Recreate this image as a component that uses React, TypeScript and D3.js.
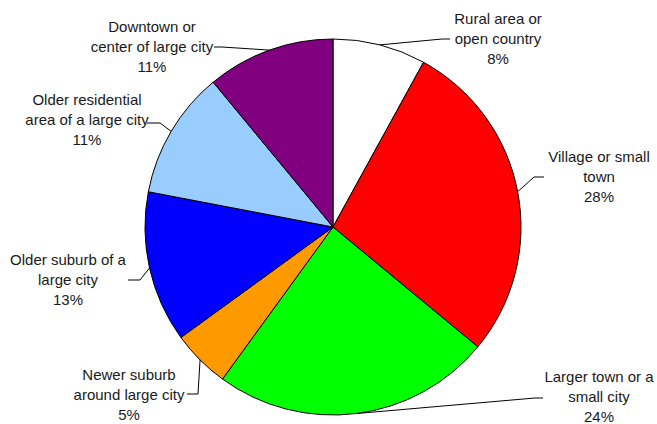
import React from "react";
import * as d3 from "d3";

const categories = [
  "Rural area or open country",
  "Village or small town",
  "Larger town or a small city",
  "Newer suburb around large city",
  "Older suburb of a large city",
  "Older residential area of a large city",
  "Downtown or center of large city",
];
const values = [8, 28, 24, 5, 13, 11, 11];
const labelLines = [
  ["Rural area or", "open country", "8%"],
  ["Village or small", "town", "28%"],
  ["Larger town or a", "small city", "24%"],
  ["Newer suburb", "around large city", "5%"],
  ["Older suburb of a", "large city", "13%"],
  ["Older residential", "area of a large city", "11%"],
  ["Downtown or", "center of large city", "11%"],
];
const colors = ["#FFFFFF", "#FF0000", "#00FF00", "#FF9900", "#0000FF", "#99CCFF", "#800080"];

// label layout: text center x, first line center y, leader bend, leader end
const labelLayout = [
  { cx: 498, cy: 19, bend: [442, 39], end: [450, 39] },
  { cx: 599, cy: 157, bend: [534, 177], end: [544, 177] },
  { cx: 599, cy: 377, bend: [535, 398], end: [543, 398] },
  { cx: 129, cy: 375, bend: [198, 394], end: [187, 394] },
  { cx: 68, cy: 260, bend: [140, 280], end: [128, 280] },
  { cx: 87, cy: 100, bend: [160, 123], end: [147, 123] },
  { cx: 152, cy: 27, bend: [222, 47], end: [214, 47] },
];

const W = 657;
const H = 424;
const CX = 333;
const CY = 227;
const R = 188;

export default function App() {
  const pie = d3.pie<number>().sort(null).value((d) => d)(values);
  const arc = d3.arc<d3.PieArcDatum<number>>().innerRadius(0).outerRadius(R);
  const lineGen = d3.line();

  return (
    <svg
      width={W}
      height={H}
      style={{ position: "absolute", left: 0, top: 0, background: "#fff" }}
      fontFamily="'Liberation Sans', Arial, sans-serif"
      fontSize={15}
    >
      <g transform={`translate(${CX},${CY})`}>
        {pie.map((p, i) => (
          <path
            key={categories[i]}
            d={arc(p) || ""}
            fill={colors[i]}
            stroke="#000"
            strokeWidth={1}
          />
        ))}
      </g>
      {pie.map((p, i) => {
        const mid = (p.startAngle + p.endAngle) / 2;
        const sx = CX + R * Math.sin(mid);
        const sy = CY - R * Math.cos(mid);
        const L = labelLayout[i];
        const d = lineGen([
          [sx, sy],
          L.bend as [number, number],
          L.end as [number, number],
        ]);
        return (
          <path key={"l" + i} d={d || ""} fill="none" stroke="#000" strokeWidth={1} />
        );
      })}
      {labelLines.map((lines, i) => (
        <text key={"t" + i} textAnchor="middle" fill="#1a1a1a">
          {lines.map((ln, j) => (
            <tspan
              key={j}
              x={labelLayout[i].cx}
              y={labelLayout[i].cy + j * 20}
              dy="0.35em"
            >
              {ln}
            </tspan>
          ))}
        </text>
      ))}
    </svg>
  );
}
